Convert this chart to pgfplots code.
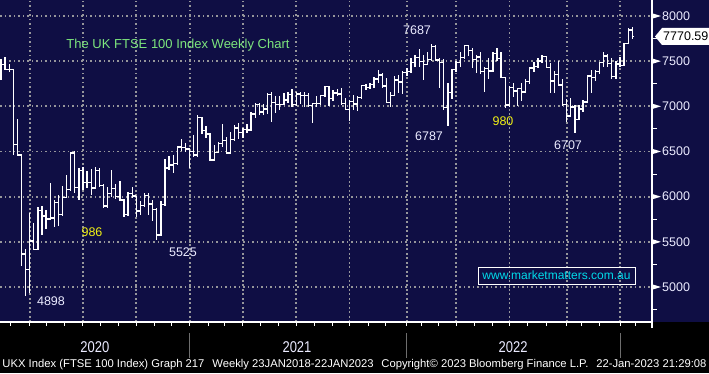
\documentclass[border=0pt]{standalone}
\usepackage{fontspec}
\setmainfont{Liberation Sans}
\usepackage{graphicx}
\usepackage{pgfplots}
\usepackage{pgfplotstable}
\pgfplotsset{compat=1.18}
\definecolor{bgnavy}{RGB}{15,14,68}
\definecolor{gridgray}{RGB}{150,150,155}
\definecolor{labwhite}{RGB}{235,235,255}
\definecolor{labyellow}{RGB}{240,240,20}
\definecolor{titlegreen}{RGB}{125,230,125}
\definecolor{urlcyan}{RGB}{0,220,235}
\definecolor{sepgray}{RGB}{110,110,110}
\newcommand{\tk}{\fontsize{12.5}{14}\selectfont}
\pgfdeclareplotmark{otick}{\pgfpathmoveto{\pgfqpoint{-2.1pt}{0pt}}\pgfpathlineto{\pgfqpoint{0pt}{0pt}}\pgfusepathqstroke}
\pgfdeclareplotmark{ctick}{\pgfpathmoveto{\pgfqpoint{0pt}{0pt}}\pgfpathlineto{\pgfqpoint{2.1pt}{0pt}}\pgfusepathqstroke}
\pgfplotstableread{
i o h l c
0 7300 7520 7290 7466
1 7466 7545 7400 7409
2 7409 7470 7380 7404
3 7404 7410 6460 6581
4 6581 6860 6460 6462
5 6462 6470 5237 5366
6 5366 5420 4898 5190
7 5190 5820 4930 5510
8 5510 5710 5410 5416
9 5416 5890 5410 5843
10 5843 5900 5580 5787
11 5787 5850 5640 5752
12 5752 6150 5750 5763
13 5763 5960 5660 5936
14 5936 6020 5680 5799
15 5799 6120 5790 5993
16 5993 6240 5990 6077
17 6077 6490 6070 6484
18 6484 6500 6040 6105
19 6105 6320 5965 6292
20 6292 6330 6070 6159
21 6159 6280 6100 6157
22 6157 6310 6020 6095
23 6095 6330 6080 6290
24 6290 6320 6110 6124
25 6124 6140 5870 5898
26 5898 6110 5880 6032
27 6032 6290 6000 6090
28 6090 6140 5970 6001
29 6001 6175 5950 5963
30 5963 5970 5780 5799
31 5799 6050 5790 6032
32 6032 6110 5990 6007
33 6007 6010 5775 5842
34 5842 5950 5800 5902
35 5902 6045 5900 6016
36 6016 6040 5800 5919
37 5919 5960 5730 5860
38 5860 5880 5525 5577
39 5577 5950 5560 5910
40 5910 6420 5900 6316
41 6316 6450 6300 6351
42 6351 6460 6260 6367
43 6367 6560 6360 6550
44 6550 6640 6500 6546
45 6546 6594 6494 6529
46 6529 6540 6320 6502
47 6502 6683 6440 6461
48 6461 6903 6440 6873
49 6873 6880 6690 6736
50 6736 6780 6650 6695
51 6695 6700 6400 6407
52 6407 6570 6400 6489
53 6489 6600 6480 6589
54 6589 6800 6550 6624
55 6624 6660 6480 6483
56 6483 6720 6480 6631
57 6631 6795 6630 6761
58 6761 6820 6640 6709
59 6709 6760 6650 6741
60 6741 6800 6710 6737
61 6737 6937 6730 6916
62 6916 7037 6870 7020
63 7020 7040 6900 6938
64 6938 7030 6900 6970
65 6970 7150 6920 7130
66 7130 7160 6830 7044
67 7044 7110 6930 7018
68 7018 7110 6960 7023
69 7023 7150 7010 7069
70 7069 7160 7040 7134
71 7134 7190 6990 7017
72 7017 7160 7000 7136
73 7136 7160 7030 7123
74 7123 7160 6990 7122
75 7122 7150 6990 7008
76 7008 7040 6820 7028
77 7028 7110 6990 7032
78 7032 7130 7020 7123
79 7123 7225 7100 7218
80 7218 7225 7000 7087
81 7087 7180 7060 7148
82 7148 7190 7110 7138
83 7138 7200 7010 7029
84 7029 7090 6960 6963
85 6963 7070 6840 7051
86 7051 7125 6960 7027
87 7027 7110 6950 7096
88 7096 7240 7080 7234
89 7234 7250 7180 7205
90 7205 7260 7190 7238
91 7238 7330 7200 7304
92 7304 7400 7260 7348
93 7348 7370 7200 7224
94 7224 7310 7040 7044
95 7044 7160 6990 7122
96 7122 7340 7110 7292
97 7292 7350 7150 7270
98 7270 7390 7140 7373
99 7373 7420 7340 7385
100 7385 7540 7380 7486
101 7486 7570 7440 7543
102 7543 7630 7440 7494
103 7494 7570 7290 7466
104 7466 7600 7460 7516
105 7516 7687 7500 7661
106 7661 7680 7500 7514
107 7514 7540 7200 7489
108 7489 7520 6960 6987
109 6987 7260 6787 7156
110 7156 7410 7080 7405
111 7405 7500 7380 7483
112 7483 7600 7440 7538
113 7538 7670 7520 7670
114 7670 7680 7560 7616
115 7616 7650 7420 7522
116 7522 7570 7370 7545
117 7545 7600 7360 7388
118 7388 7430 7160 7418
119 7418 7540 7300 7390
120 7390 7600 7380 7585
121 7585 7650 7500 7533
122 7533 7600 7310 7318
123 7318 7330 6980 7016
124 7016 7230 6990 7209
125 7209 7260 7100 7169
126 7169 7200 7000 7196
127 7196 7260 7060 7159
128 7159 7300 7150 7276
129 7276 7430 7250 7423
130 7423 7490 7380 7440
131 7440 7530 7420 7501
132 7501 7570 7480 7551
133 7551 7560 7420 7427
134 7427 7480 7150 7281
135 7281 7390 7150 7351
136 7351 7500 7220 7237
137 7237 7300 7000 7019
138 7019 7080 6830 6894
139 6894 7090 6880 6991
140 6991 7010 6707 6858
141 6858 7020 6850 6970
142 6970 7070 6940 7047
143 7047 7340 7040 7335
144 7335 7400 7150 7318
145 7318 7400 7280 7385
146 7385 7490 7360 7486
147 7486 7600 7430 7556
148 7556 7580 7430 7477
149 7477 7530 7300 7332
150 7332 7500 7300 7469
151 7469 7550 7440 7452
152 7452 7700 7450 7699
153 7699 7870 7690 7844
154 7844 7876 7750 7770.59
}\ohlc
\begin{document}
\begin{tikzpicture}
\path[use as bounding box] (0,0) rectangle (709pt,373pt);
\fill[black] (0,0) rectangle (709pt,51pt);
\fill[bgnavy] (0,51pt) rectangle (709pt,373pt);
% grid drawn as rows of small squares (dotted look)
\foreach \gy in {86.0,131.2,176.3,221.5,266.7,311.8,357.0}{
  \foreach \gx in {0,4.5,...,648}{
    \fill[gridgray] (\gx pt,\gy pt-0.9pt) rectangle ++(1.9pt,1.8pt);
  }
}
\foreach \gx in {29.7,83.0,136.3,189.6,242.9,296.2,349.5,406.9,456.1,509.4,566.8,620.1}{
  \foreach \gy in {51,55.5,...,371}{
    \fill[gridgray] (\gx pt-0.9pt,\gy pt) rectangle ++(1.8pt,1.9pt);
  }
}
\begin{axis}[
  at={(0pt,51pt)}, anchor=south west,
  scale only axis, width=652pt, height=322pt,
  xmin=-0.244, xmax=158.8, ymin=4612.5, ymax=8177,
  axis line style={draw=none},
  major tick length=0pt, minor tick length=0pt,
  xtick=\empty, ytick=\empty,
  clip=false,
]
\addplot[only marks, mark=otick, mark options={draw=white, line width=1.3pt},
  error bars/.cd, y dir=both, y explicit, error mark=none,
  error bar style={draw=white, line width=1.3pt}]
  table[x=i, y=o, y error plus expr=\thisrow{h}-\thisrow{o}, y error minus expr=\thisrow{o}-\thisrow{l}] {\ohlc};
\addplot[only marks, mark=ctick, mark options={draw=white, line width=1.3pt}]
  table[x=i, y=c] {\ohlc};
% axis lines
\draw[white, line width=1.3pt] (rel axis cs:0,0) -- (rel axis cs:1,0);
\draw[white, line width=1.3pt] ([yshift=-6pt]rel axis cs:1,0) -- (rel axis cs:1,1);
% right axis labels and markers
\pgfplotsinvokeforeach{5000,5500,6000,6500,7000,7500,8000}{
  \fill[white] ([xshift=0.5pt,yshift=2.6pt]axis cs:158.8,#1) -- ([xshift=9pt]axis cs:158.8,#1) -- ([xshift=0.5pt,yshift=-2.6pt]axis cs:158.8,#1) -- cycle;
  \node[anchor=west, inner sep=0pt, text=labwhite, font=\tk] at ([xshift=10pt]axis cs:158.8,#1) {#1};
}
\pgfplotsinvokeforeach{4750,5250,5750,6250,6750,7250,7750}{
  \draw[white, line width=1pt] (axis cs:158.8,#1) -- ++(5pt,0pt);
}
% month ticks
\pgfplotsinvokeforeach{2.40,7,11.12,15.54,20,24.26,28.69,33,37.40,41.69,46,50.54,54.54,59,63.26,67.69,72,76.40,80.83,85,89.54,93.83,99,102.69,106.69,111,115.40,119.83,124,128.54,132.97,138,141.69,145.97,151,154.83}{
  \draw[white, line width=1pt] (axis cs:#1,4612.5) -- ++(0pt,-4pt);
}
% year separators and labels
\pgfplotsinvokeforeach{46,99,151}{
  \draw[sepgray, line width=1pt] ([yshift=-11pt]axis cs:#1,4612.5) -- ([yshift=-36pt]axis cs:#1,4612.5);
}
\node[text=labwhite, font=\fontsize{13}{15}\selectfont, inner sep=0pt, yscale=1.2] at ([yshift=-25pt]axis cs:22.9,4612.5) {2020};
\node[text=labwhite, font=\fontsize{13}{15}\selectfont, inner sep=0pt, yscale=1.2] at ([yshift=-25pt]axis cs:72.2,4612.5) {2021};
\node[text=labwhite, font=\fontsize{13}{15}\selectfont, inner sep=0pt, yscale=1.2] at ([yshift=-25pt]axis cs:124.9,4612.5) {2022};
\end{axis}
% title and annotations
\node[text=titlegreen, font=\fontsize{13}{15}\selectfont, inner sep=0pt] at (178pt,328pt) {The UK FTSE 100 Index Weekly Chart};
\node[text=labwhite, font=\tk, inner sep=0pt] at (417pt,343pt) {7687};
\node[text=labwhite, font=\tk, inner sep=0pt] at (429pt,237pt) {6787};
\node[text=labyellow, font=\tk, inner sep=0pt] at (503pt,252pt) {980};
\node[text=labwhite, font=\tk, inner sep=0pt] at (568pt,228pt) {6707};
\node[text=labwhite, font=\tk, inner sep=0pt] at (51pt,72pt) {4898};
\node[text=labyellow, font=\tk, inner sep=0pt] at (92pt,141pt) {986};
\node[text=labwhite, font=\tk, inner sep=0pt] at (183pt,121pt) {5525};
% url box
\draw[white, line width=1pt] (478pt,89pt) rectangle (635pt,106pt);
\node[text=urlcyan, font=\fontsize{12}{14}\selectfont, inner sep=0pt] at (556.5pt,97.5pt) {www.marketmatters.com.au};
% last price box
\fill[white] (655pt,336.5pt) -- (662pt,345pt) -- (709pt,345pt) -- (709pt,328pt) -- (662pt,328pt) -- cycle;
\node[anchor=west, text=black, font=\tk, inner sep=0pt] at (663pt,336.5pt) {7770.59};
% footer
\node[text=white, inner sep=0pt] at (354.5pt,8pt) {\resizebox{704pt}{!}{\fontsize{10}{12}\selectfont UKX Index (FTSE 100 Index) Graph 217\hspace{0.7em}Weekly 23JAN2018-22JAN2023\hspace{0.7em}Copyright© 2023 Bloomberg Finance L.P.\hspace{0.7em}22-Jan-2023 21:29:08}};
\end{tikzpicture}
\end{document}
